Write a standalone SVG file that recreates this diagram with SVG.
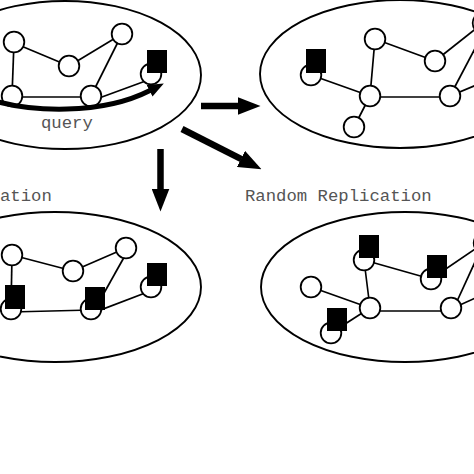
<svg xmlns="http://www.w3.org/2000/svg" width="474" height="474" viewBox="0 0 474 474">
<defs>
<style>
.panel{fill:none;stroke:#000;stroke-width:1.9}
.n{fill:#fff;stroke:#000;stroke-width:1.8}
.rep{fill:#000;stroke:none}
.e{stroke:#000;stroke-width:1.7;fill:none}
.big{stroke:#000;stroke-width:6.5;fill:none}
.q{stroke:#000;stroke-width:5;fill:none;stroke-linecap:butt}
.lbl{font-family:"Liberation Mono","Courier New",monospace;font-size:17.3px;fill:#555}
</style>
<marker id="ah" viewBox="0 0 23 18" refX="0.5" refY="9" markerWidth="23" markerHeight="18" markerUnits="userSpaceOnUse" orient="auto"><path d="M0,0 L23,9 L0,18 z" fill="#000"/></marker>
<marker id="qh" viewBox="0 0 16 13" refX="0.5" refY="6.5" markerWidth="16" markerHeight="13" markerUnits="userSpaceOnUse" orient="auto"><path d="M0,0 L16,6.5 L0,13 z" fill="#000"/></marker>
</defs>
<rect width="474" height="474" fill="#fff"/>

<g id="panels">
<ellipse id="panel-tl" class="panel" cx="65" cy="75" rx="136" ry="74"/>
<ellipse id="panel-tr" class="panel" cx="400" cy="74" rx="140" ry="74"/>
<ellipse id="panel-bl" class="panel" cx="55" cy="287" rx="146" ry="75"/>
<ellipse id="panel-br" class="panel" cx="405" cy="287" rx="144" ry="75"/>
</g>

<g id="connectors">
<!-- top-left -->
<line class="e" x1="14" y1="43" x2="69" y2="66"/>
<line class="e" x1="69" y1="66" x2="122" y2="34"/>
<line class="e" x1="14" y1="42" x2="12" y2="96"/>
<line class="e" x1="12" y1="97" x2="91" y2="97"/>
<line class="e" x1="122" y1="34" x2="91" y2="96"/>
<line class="e" x1="91" y1="101" x2="151" y2="79"/>
<!-- top-right -->
<line class="e" x1="311" y1="75" x2="370" y2="96"/>
<line class="e" x1="375" y1="39" x2="370" y2="96"/>
<line class="e" x1="375" y1="39" x2="435" y2="61"/>
<line class="e" x1="435" y1="61" x2="483" y2="23"/>
<line class="e" x1="370" y1="97" x2="450" y2="97"/>
<line class="e" x1="370" y1="96" x2="354" y2="127"/>
<line class="e" x1="450" y1="96" x2="481" y2="37"/>
<line class="e" x1="450" y1="96" x2="480" y2="83.5"/>
<!-- bottom-left -->
<line class="e" x1="12" y1="255" x2="73" y2="271"/>
<line class="e" x1="73" y1="271" x2="126" y2="248"/>
<line class="e" x1="12" y1="255" x2="11" y2="309"/>
<line class="e" x1="11" y1="312" x2="91" y2="310"/>
<line class="e" x1="127" y1="252" x2="99" y2="302"/>
<line class="e" x1="91" y1="313.6" x2="151" y2="290.8"/>
<!-- bottom-right -->
<line class="e" x1="364" y1="260" x2="431" y2="279"/>
<line class="e" x1="364" y1="260" x2="370" y2="308"/>
<line class="e" x1="311" y1="287" x2="370" y2="308"/>
<line class="e" x1="370" y1="311" x2="451" y2="311"/>
<line class="e" x1="370" y1="308" x2="331" y2="333"/>
<line class="e" x1="431" y1="279" x2="484" y2="243"/>
<line class="e" x1="453" y1="310" x2="480" y2="251"/>
<line class="e" x1="451" y1="309" x2="480" y2="296"/>
<!-- transition arrows -->
<line class="big" x1="201" y1="106" x2="238" y2="106" marker-end="url(#ah)"/>
<line class="big" x1="160.5" y1="149" x2="160.5" y2="189" marker-end="url(#ah)"/>
<line class="big" x1="182" y1="129" x2="241.4" y2="159.1" marker-end="url(#ah)"/>
</g>

<g id="nodes-tl">
<g id="tl-a"><circle class="n" cx="14" cy="42" r="10.3"/></g>
<g id="tl-b"><circle class="n" cx="69" cy="66" r="10.3"/></g>
<g id="tl-c"><circle class="n" cx="122" cy="34" r="10.3"/></g>
<g id="tl-d"><circle class="n" cx="12" cy="96" r="10.3"/></g>
<g id="tl-e"><circle class="n" cx="91" cy="96" r="10.3"/></g>
<g id="tl-f"><circle class="n" cx="151" cy="74" r="10.3"/><rect class="rep" x="147" y="50" width="20" height="23"/></g>
</g>

<g id="nodes-tr">
<g id="tr-a"><circle class="n" cx="311" cy="75" r="10.3"/><rect class="rep" x="306" y="49" width="20" height="24"/></g>
<g id="tr-b"><circle class="n" cx="375" cy="39" r="10.3"/></g>
<g id="tr-c"><circle class="n" cx="435" cy="61" r="10.3"/></g>
<g id="tr-d"><circle class="n" cx="370" cy="96" r="10.3"/></g>
<g id="tr-e"><circle class="n" cx="450" cy="96" r="10.3"/></g>
<g id="tr-f"><circle class="n" cx="354" cy="127" r="10.3"/></g>
<g id="tr-g"><circle class="n" cx="483" cy="23" r="10.3"/></g>
</g>

<g id="nodes-bl">
<g id="bl-a"><circle class="n" cx="12" cy="255" r="10.3"/></g>
<g id="bl-b"><circle class="n" cx="73" cy="271" r="10.3"/></g>
<g id="bl-c"><circle class="n" cx="126" cy="248" r="10.3"/></g>
<g id="bl-d"><circle class="n" cx="11" cy="309" r="10.3"/><rect class="rep" x="5" y="285" width="20" height="24"/></g>
<g id="bl-e"><circle class="n" cx="91" cy="309" r="10.3"/><rect class="rep" x="85" y="287" width="20" height="23"/></g>
<g id="bl-f"><circle class="n" cx="151" cy="287" r="10.3"/><rect class="rep" x="147" y="263" width="20" height="23"/></g>
</g>

<g id="nodes-br">
<g id="br-a"><circle class="n" cx="364" cy="260" r="10.3"/><rect class="rep" x="359" y="235" width="20" height="23"/></g>
<g id="br-b"><circle class="n" cx="431" cy="279" r="10.3"/><rect class="rep" x="427" y="255" width="20" height="23"/></g>
<g id="br-c"><circle class="n" cx="311" cy="287" r="10.3"/></g>
<g id="br-d"><circle class="n" cx="370" cy="308" r="10.3"/></g>
<g id="br-e"><circle class="n" cx="451" cy="308" r="10.3"/></g>
<g id="br-f"><circle class="n" cx="331" cy="333" r="10.3"/><rect class="rep" x="327" y="308" width="20" height="23"/></g>
<g id="br-g"><circle class="n" cx="484" cy="243" r="10.3"/></g>
</g>

<g id="query-arrow">
<path class="q" d="M-5,101 C30,111 100,116 150,90.5" marker-end="url(#qh)"/>
</g>

<g id="labels">
<text class="lbl" x="41" y="128">query</text>
<text class="lbl" x="245" y="201">Random Replication</text>
<text class="lbl" x="0" y="201">ation</text>
</g>
</svg>
